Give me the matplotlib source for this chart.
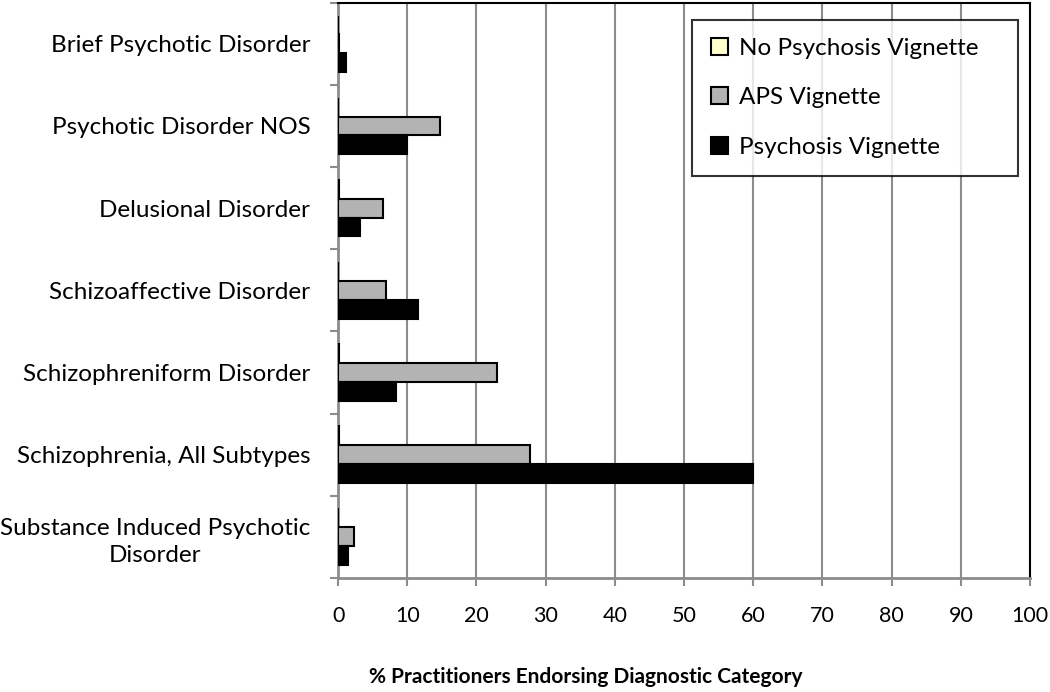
import numpy as np
from matplotlib import pyplot as plt
import matplotlib as mpl

plt.rcParams['font.family'] = ['Lato', 'DejaVu Sans']

categories = [
    'Brief Psychotic Disorder',
    'Psychotic Disorder NOS',
    'Delusional Disorder',
    'Schizoaffective Disorder',
    'Schizophreniform Disorder',
    'Schizophrenia, All Subtypes',
    'Substance Induced Psychotic\nDisorder',
]
series_names = ['No Psychosis Vignette', 'APS Vignette', 'Psychosis Vignette']
no_psychosis = [0.0, 0.0, 0.2, 0.0, 0.2, 0.2, 0.0]
aps = [0.2, 14.7, 6.5, 6.9, 23.0, 27.8, 2.3]
psychosis = [1.1, 9.9, 3.1, 11.6, 8.4, 60.0, 1.4]
series_colors = ['#FFFFCC', '#B3B3B3', '#000000']
x_ticks = list(range(0, 101, 10))

fig = plt.figure(figsize=(10.5, 6.92), dpi=100)
ax = fig.add_axes([0.322, 0.165, 0.659, 0.831])

y = np.arange(len(categories))
bar_h = 0.23
for i, (vals, name, col) in enumerate(zip([no_psychosis, aps, psychosis], series_names, series_colors)):
    ax.barh(y + (i - 1) * bar_h, vals, height=bar_h, color=col, edgecolor='black',
            linewidth=1.5, label=name, zorder=3)

ax.set_xlim(0, 100)
ax.set_ylim(len(categories) - 0.5, -0.5)
ax.set_xticks(x_ticks)
ax.set_xticklabels([str(t) for t in x_ticks], fontsize=15.5)
ax.set_yticks(y)
ax.set_yticklabels(categories, fontsize=17.5, multialignment='center', linespacing=1.35)
ax.set_yticks(np.arange(-0.5, len(categories), 1), minor=True)
ax.tick_params(axis='y', which='major', length=0, pad=20)
ax.tick_params(axis='y', which='minor', length=6, width=1.5, color='#8c8c8c', direction='out')
ax.tick_params(axis='x', which='major', length=6, width=1.5, color='#8c8c8c', pad=14)

ax.grid(True, axis='x', color='#8c8c8c', linewidth=1.5, zorder=0)
ax.set_axisbelow(True)

for side in ['left', 'bottom']:
    ax.spines[side].set_color('#8c8c8c')
    ax.spines[side].set_linewidth(2)
for side in ['top', 'right']:
    ax.spines[side].set_color('black')
    ax.spines[side].set_linewidth(1.5)

ax.set_xlabel('% Practitioners Endorsing Diagnostic Category', fontsize=15,
              fontweight='bold')
ax.xaxis.set_label_coords(0.358, -0.155)

leg = ax.legend(loc='upper left', bbox_to_anchor=(0.512, 0.97, 0.471, 0.0), mode='expand',
                fontsize=17.5, frameon=True, fancybox=False, labelspacing=1.16,
                handlelength=0.7, handleheight=0.7, handletextpad=0.45,
                borderpad=0.75, borderaxespad=0)
leg.get_frame().set_edgecolor('black')
leg.get_frame().set_linewidth(1.5)
leg.set_zorder(5)

plt.savefig('out.png', dpi=100)
